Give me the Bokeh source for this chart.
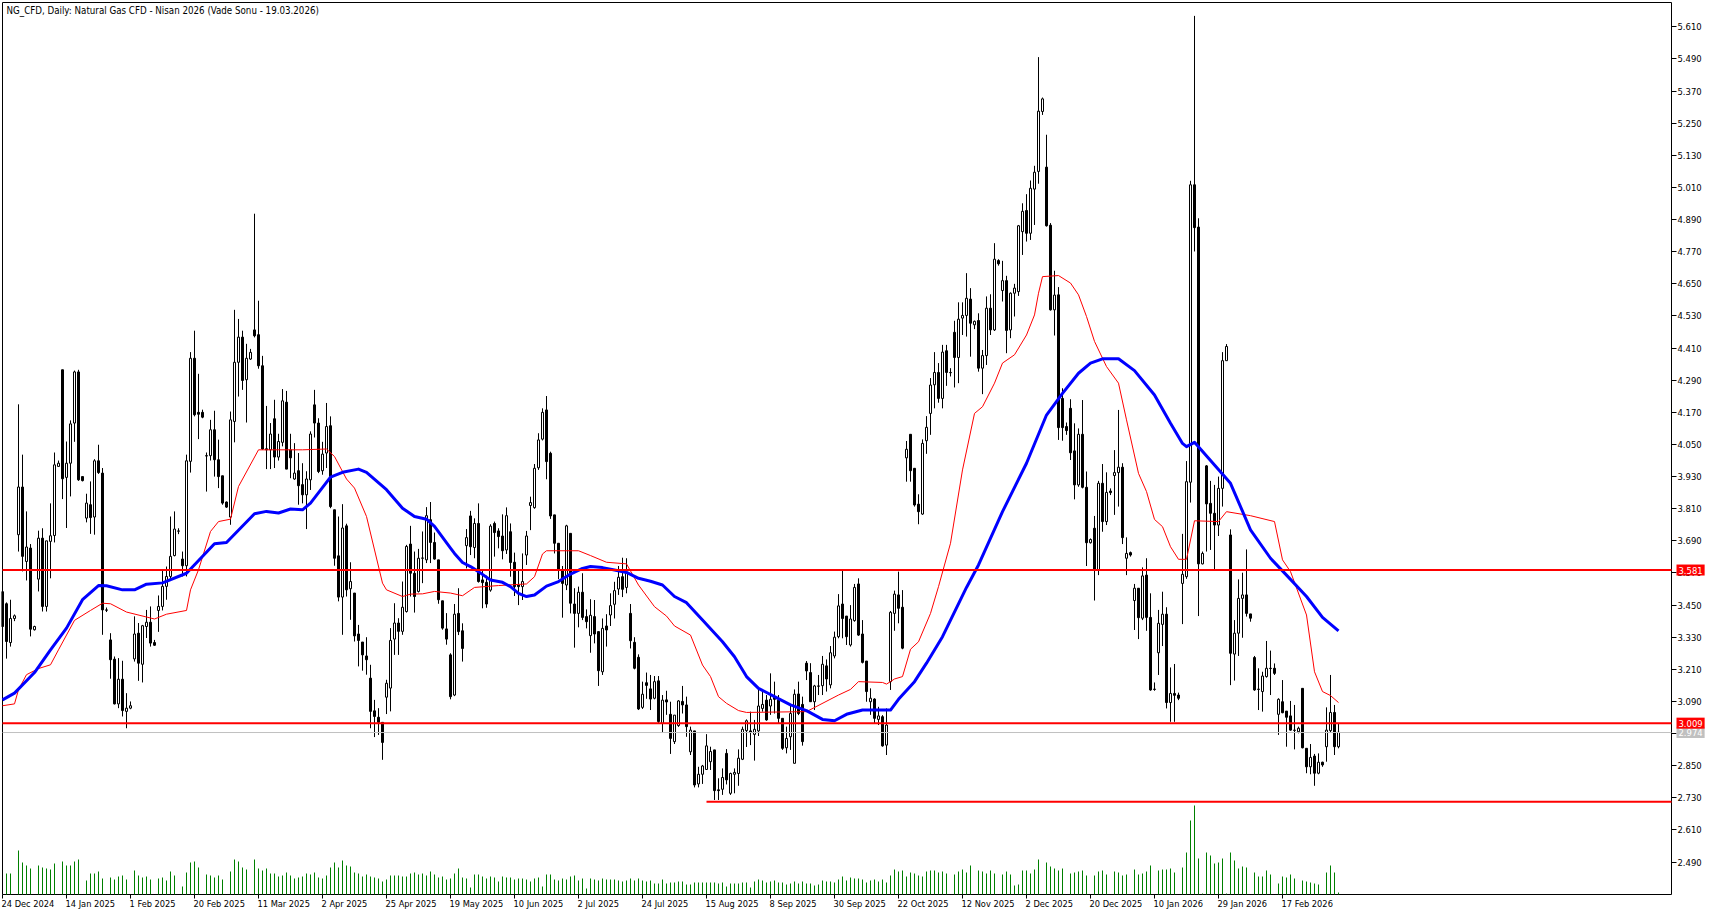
from bokeh.embed import file_html
from bokeh.models import FixedTicker, Label, NumeralTickFormatter, Range1d
from bokeh.plotting import figure
from bokeh.resources import INLINE

chart_title = "NG_CFD, Daily:  Natural Gas CFD - Nisan 2026 (Vade Sonu - 19.03.2026)"

opens = [
    3.50,3.455,3.31,3.40,3.713,3.891,3.613,3.663,3.358,3.547,
    3.70,3.445,3.688,3.71,3.968,4.329,3.927,3.98,4.13,4.321,
    3.93,3.775,3.825,3.779,3.989,3.943,3.432,3.32,3.248,3.081,
    3.173,3.053,3.065,3.249,3.345,3.229,3.37,3.386,3.31,3.43,
    3.445,3.52,3.557,3.635,3.726,3.622,3.597,3.987,4.372,4.17,
    4.17,4.008,4.008,4.105,3.993,3.933,3.835,3.779,4.136,4.357,
    4.451,4.292,4.369,4.478,4.46,4.344,4.034,4.03,4.146,4.003,
    4.058,4.208,4.03,3.921,3.952,3.9,3.862,3.918,4.198,4.13,
    3.952,4.018,4.12,3.806,3.634,3.48,3.746,3.511,3.495,3.342,
    3.312,3.26,3.177,3.055,3.031,3.012,3.106,3.14,3.323,3.383,
    3.352,3.426,3.678,3.569,3.501,3.625,3.619,3.769,3.684,3.619,
    3.466,3.361,3.264,3.114,3.419,3.354,3.672,3.783,3.665,3.755,
    3.544,3.535,3.506,3.755,3.727,3.708,3.656,3.724,3.61,3.525,
    3.519,3.637,3.822,3.814,3.963,4.07,4.179,4.017,3.787,3.681,
    3.581,3.525,3.718,3.454,3.419,3.498,3.407,3.336,3.407,3.351,
    3.201,3.372,3.413,3.453,3.51,3.556,3.516,3.419,3.311,3.255,
    3.068,3.16,3.137,3.102,3.167,3.008,3.096,3.042,2.94,3.0,
    3.09,3.077,2.902,2.98,2.782,2.818,2.836,2.865,2.909,2.76,
    2.762,2.896,2.747,2.818,2.821,2.874,2.981,2.98,2.967,2.98,
    3.064,3.095,3.073,3.108,3.095,3.027,2.917,2.958,2.859,3.118,
    3.079,3.233,3.198,3.089,3.148,3.149,3.223,3.152,3.26,3.332,
    3.454,3.409,3.301,3.392,3.529,3.342,3.241,3.089,3.099,3.023,
    3.033,2.927,3.164,3.419,3.488,3.442,4.0,4.088,3.961,3.827,
    3.79,4.064,4.166,4.273,4.319,4.222,4.40,4.319,4.469,4.375,
    4.522,4.532,4.593,4.497,4.513,4.335,4.382,4.559,4.478,4.737,
    4.625,4.662,4.478,4.615,4.621,4.845,4.924,4.839,5.004,5.07,
    5.294,5.086,4.869,4.553,4.609,4.222,4.117,4.185,4.026,3.899,
    4.088,3.89,3.683,3.737,3.581,3.905,3.762,3.876,3.934,3.945,
    3.965,3.625,3.646,3.467,3.513,3.401,3.562,3.404,3.136,3.272,
    3.378,3.416,3.086,3.12,3.114,3.531,3.556,3.909,5.02,4.862,
    3.604,3.97,3.83,3.793,3.749,3.886,4.363,3.712,3.267,3.345,
    3.475,3.488,3.417,3.254,3.136,3.127,3.183,3.214,3.214,3.042,
    3.089,3.054,3.036,2.983,2.977,3.139,2.915,2.846,2.886,2.822,
    2.863,2.921,2.981,3.049,2.921,
]
closes = [
    3.37,3.314,3.40,3.41,3.891,3.632,3.667,3.36,3.37,3.70,
    3.445,3.69,3.709,3.974,3.98,3.922,3.98,4.127,4.321,3.918,
    3.915,3.831,3.777,3.989,3.945,3.432,3.431,3.246,3.081,3.173,
    3.056,3.065,3.074,3.342,3.233,3.373,3.386,3.308,3.30,3.445,
    3.52,3.557,3.632,3.734,3.727,3.597,3.989,4.372,4.161,4.163,
    4.152,4.007,4.105,3.993,3.93,3.831,3.816,4.142,4.357,4.451,
    4.289,4.372,4.394,4.456,4.344,4.033,4.03,4.089,4.003,4.061,
    4.213,3.958,4.0,3.943,3.896,3.862,3.921,4.089,4.13,3.949,
    4.014,4.117,3.818,3.625,3.48,3.738,3.507,3.538,3.335,3.318,
    3.264,3.246,3.053,3.034,3.012,2.937,3.158,3.318,3.383,3.352,
    3.442,3.669,3.569,3.482,3.625,3.626,3.784,3.684,3.622,3.47,
    3.364,3.323,3.108,3.416,3.351,3.288,3.702,3.668,3.755,3.538,
    3.534,3.454,3.745,3.721,3.706,3.653,3.784,3.609,3.519,3.519,
    3.538,3.708,3.833,3.961,4.067,4.17,3.986,3.783,3.681,3.581,
    3.531,3.746,3.457,3.419,3.498,3.404,3.388,3.412,3.342,3.205,
    3.363,3.357,3.448,3.504,3.554,3.509,3.569,3.317,3.214,3.062,
    3.117,3.15,3.099,3.164,3.015,3.095,3.088,2.952,3.039,3.092,
    3.077,2.996,2.983,2.778,2.818,2.849,2.924,2.903,2.757,2.757,
    2.806,2.797,2.821,2.825,2.878,2.986,3.018,2.974,2.986,3.073,
    3.079,3.021,3.098,3.098,3.027,2.915,2.952,3.045,3.117,3.045,
    2.94,3.204,3.089,3.148,3.147,3.229,3.174,3.272,3.33,3.447,
    3.40,3.332,3.398,3.516,3.338,3.236,3.127,3.102,3.027,3.036,
    2.924,3.002,3.423,3.491,3.438,3.289,4.032,3.952,3.824,3.799,
    4.054,4.114,4.272,4.319,4.222,4.395,4.319,4.318,4.375,4.518,
    4.532,4.596,4.503,4.51,4.335,4.382,4.559,4.478,4.742,4.725,
    4.662,4.476,4.615,4.634,4.867,4.921,4.839,5.007,5.067,5.295,
    5.341,4.867,4.553,4.608,4.113,4.113,4.102,4.019,3.899,4.088,
    3.89,3.683,3.695,3.581,3.905,3.762,3.871,3.87,3.945,3.965,
    3.702,3.643,3.637,3.513,3.403,3.559,3.404,3.133,3.135,3.382,
    3.416,3.086,3.12,3.113,3.102,3.565,3.911,5.02,4.86,3.604,
    3.643,3.828,3.793,3.749,3.886,4.363,4.416,3.27,3.345,3.475,
    3.488,3.419,3.401,3.133,3.135,3.185,3.214,3.213,3.195,3.098,
    3.048,3.031,2.983,2.982,2.99,2.917,2.846,2.881,2.822,2.863,
    2.853,2.983,3.049,2.921,2.975,
]
highs = [
    3.52,3.46,3.47,3.415,4.20,4.012,3.80,3.678,3.373,3.728,
    3.737,3.69,3.83,4.02,3.99,4.329,4.061,4.14,4.326,4.329,
    3.93,3.866,3.912,3.995,4.049,3.962,3.441,3.345,3.258,3.252,
    3.242,3.121,3.09,3.408,3.383,3.376,3.432,3.445,3.32,3.486,
    3.578,3.594,3.781,3.80,3.737,3.65,4.012,4.395,4.475,4.314,
    4.18,4.02,4.142,4.176,4.068,3.933,3.837,4.173,4.553,4.519,
    4.475,4.426,4.407,4.912,4.587,4.381,4.194,4.13,4.217,4.09,
    4.257,4.25,4.09,4.055,4.018,3.98,3.95,4.099,4.254,4.148,
    4.06,4.205,4.155,3.806,3.781,3.827,3.754,3.61,3.495,3.376,
    3.312,3.33,3.227,3.096,3.065,3.012,3.171,3.364,3.457,3.401,
    3.538,3.675,3.746,3.65,3.66,3.725,3.816,3.835,3.721,3.619,
    3.466,3.42,3.27,3.454,3.513,3.382,3.734,3.802,3.774,3.83,
    3.581,3.56,3.752,3.762,3.737,3.789,3.815,3.755,3.646,3.581,
    3.643,3.727,3.855,3.977,4.092,4.185,4.231,4.023,3.787,3.681,
    3.596,3.75,3.718,3.513,3.519,3.569,3.434,3.472,3.469,3.351,
    3.40,3.416,3.494,3.537,3.596,3.627,3.625,3.454,3.33,3.266,
    3.164,3.198,3.189,3.185,3.185,3.114,3.13,3.089,3.039,3.095,
    3.148,3.108,2.996,2.98,2.846,2.853,2.968,2.921,2.909,2.803,
    2.84,2.912,2.824,2.84,2.911,2.996,3.023,3.052,3.021,3.133,
    3.133,3.114,3.195,3.164,3.114,3.027,2.996,3.077,3.135,3.164,
    3.108,3.241,3.233,3.152,3.189,3.26,3.247,3.297,3.351,3.491,
    3.579,3.409,3.45,3.529,3.55,3.394,3.241,3.139,3.102,3.07,
    3.039,3.064,3.428,3.504,3.575,3.506,4.063,4.088,3.961,3.864,
    4.069,4.156,4.298,4.395,4.354,4.422,4.422,4.335,4.512,4.581,
    4.581,4.69,4.634,4.513,4.54,4.403,4.603,4.611,4.802,4.742,
    4.736,4.68,4.618,4.65,4.87,4.951,4.985,5.036,5.091,5.497,
    5.346,5.207,4.877,4.699,4.638,4.26,4.132,4.219,4.129,4.11,
    4.216,3.949,3.699,3.783,3.914,3.977,3.946,3.886,4.029,4.179,
    3.98,3.703,3.65,3.529,3.513,3.591,3.625,3.494,3.161,3.432,
    3.5,3.442,3.217,3.23,3.123,3.716,3.988,5.035,5.651,4.895,
    3.65,3.973,3.914,3.899,3.93,4.395,4.425,3.733,3.394,3.546,
    3.571,3.658,3.417,3.26,3.214,3.201,3.316,3.28,3.232,3.102,
    3.17,3.054,3.092,3.077,2.996,3.139,2.915,2.931,2.894,2.896,
    2.865,3.068,3.189,3.077,3.008,
]
lows = [
    3.33,3.25,3.295,3.39,3.65,3.576,3.542,3.333,3.355,3.501,
    3.426,3.426,3.55,3.684,3.968,3.846,3.738,3.856,4.06,3.914,
    3.912,3.759,3.716,3.713,3.94,3.339,3.424,3.175,3.079,3.065,
    3.034,2.99,3.061,3.239,3.167,3.161,3.327,3.295,3.298,3.35,
    3.43,3.47,3.545,3.632,3.715,3.557,3.557,3.945,4.155,4.07,
    4.148,3.874,3.99,3.93,3.887,3.825,3.813,3.75,4.058,4.229,
    4.254,4.132,4.366,4.45,4.333,4.03,3.958,3.958,3.962,3.99,
    4.043,3.958,3.924,3.918,3.825,3.83,3.734,3.88,4.076,3.943,
    3.937,3.962,3.812,3.597,3.464,3.339,3.482,3.395,3.314,3.221,
    3.205,3.19,2.99,2.957,2.965,2.872,3.043,3.053,3.264,3.264,
    3.339,3.422,3.482,3.422,3.497,3.532,3.607,3.607,3.62,3.455,
    3.358,3.302,3.098,3.11,3.338,3.239,3.587,3.637,3.625,3.534,
    3.438,3.44,3.5,3.631,3.662,3.621,3.641,3.556,3.484,3.45,
    3.469,3.6,3.73,3.81,3.955,4.065,3.92,3.772,3.643,3.547,
    3.403,3.506,3.419,3.291,3.367,3.394,3.363,3.272,3.307,3.148,
    3.189,3.295,3.372,3.4,3.488,3.48,3.494,3.288,3.21,3.058,
    3.062,3.10,3.058,3.098,3.008,2.973,3.04,2.894,2.931,2.995,
    3.045,2.958,2.89,2.769,2.769,2.782,2.834,2.834,2.722,2.722,
    2.741,2.78,2.741,2.747,2.775,2.871,2.92,2.927,2.869,2.961,
    3.052,3.018,3.04,3.045,3.008,2.909,2.896,2.909,2.859,3.039,
    2.925,3.17,3.089,3.058,3.114,3.114,3.127,3.139,3.251,3.326,
    3.326,3.301,3.295,3.388,3.335,3.232,3.089,3.04,3.008,3.002,
    2.921,2.89,3.133,3.354,3.382,3.285,3.911,3.911,3.818,3.752,
    3.787,4.015,4.086,4.185,4.206,4.185,4.269,4.304,4.263,4.279,
    4.459,4.453,4.378,4.481,4.322,4.238,4.347,4.459,4.474,4.718,
    4.584,4.391,4.447,4.528,4.605,4.758,4.808,4.814,4.87,5.024,
    5.281,4.864,4.55,4.457,4.067,4.064,4.086,3.992,3.845,3.892,
    3.886,3.596,3.68,3.467,3.562,3.724,3.749,3.861,3.787,3.818,
    3.678,3.562,3.631,3.357,3.323,3.394,3.354,3.13,3.13,3.189,
    3.297,3.064,3.014,3.014,3.095,3.379,3.548,3.833,4.771,3.409,
    3.602,3.65,3.656,3.581,3.708,3.818,4.363,3.151,3.168,3.26,
    3.328,3.407,3.388,3.13,3.058,3.052,3.179,3.114,3.189,2.965,
    3.046,2.921,2.981,2.911,2.971,2.915,2.822,2.818,2.775,2.818,
    2.846,2.865,2.973,2.89,2.915,
]
volumes = [
    0,21,21,0,44,32,29,26,0,29,
    27,26,25,31,0,33,29,29,33,35,
    0,14,21,21,23,16,0,17,15,18,
    19,15,0,24,19,17,18,15,0,16,
    17,14,23,19,0,8,22,32,33,27,
    0,20,19,17,19,15,0,23,35,33,
    27,25,0,35,26,24,26,21,21,18,
    19,22,19,16,17,18,21,20,22,17,
    16,19,27,32,27,34,29,28,22,21,
    18,20,18,17,16,13,15,19,19,19,
    18,18,21,22,20,21,19,23,20,17,
    18,15,16,21,26,17,16,7,20,20,
    18,16,18,17,13,18,17,17,15,16,
    16,15,13,16,17,8,20,20,15,14,
    16,15,18,19,14,16,6,16,15,14,
    16,15,15,15,14,13,14,16,14,16,
    14,13,14,11,11,15,11,12,12,13,
    13,10,10,12,12,12,12,12,12,11,
    12,8,11,11,11,12,12,7,13,15,
    14,12,13,14,12,12,10,11,13,11,
    13,11,11,9,10,14,13,13,12,15,
    18,14,17,16,16,15,12,14,15,13,
    15,12,19,25,23,24,18,22,21,19,
    18,23,24,24,22,23,21,0,20,23,
    25,22,29,0,24,23,21,24,21,0,
    20,23,20,9,10,24,24,21,25,35,
    0,32,28,26,24,26,0,21,22,23,
    24,19,0,19,23,24,20,0,23,22,
    19,20,0,25,20,21,23,29,0,24,
    25,25,26,22,0,27,42,74,89,36,
    1,42,39,31,32,36,1,42,34,26,
    28,27,0,22,18,18,24,20,0,11,
    18,17,20,16,0,14,13,12,11,10,
    0,22,29,22,2,
]

# moving averages, read at the bars where the line bends
blue_bars = [0,3,8,12,16,20,24,26,30,33,36,40,46,53,56,63,66,69,72,75,77,82,85,89,91,96,100,103,106,108,112,
             113,115,117,119,122,125,127,129,131,133,136,139,142,145,147,150,153,156,159,162,165,168,171,175,180,183,186,189,
             193,197,201,205,208,211,215,219,222,224,228,231,235,241,244,250,256,261,265,269,272,275,279,283,288,
             292,295,296,298,303,307,312,317,321,326,330,334]
blue_ma = [3.096,3.121,3.198,3.283,3.364,3.47,3.523,3.522,3.507,3.507,3.528,3.533,3.569,3.679,3.684,3.791,3.8,3.794,3.809,3.806,3.831,3.928,3.946,3.958,3.946,3.881,3.812,3.781,3.771,3.744,3.663,
           3.643,3.609,3.594,3.575,3.544,3.535,3.519,3.494,3.482,3.488,3.521,3.538,3.566,3.587,3.594,3.59,3.581,3.572,3.55,3.539,3.525,3.482,3.459,3.394,3.313,3.257,3.183,3.139,
           3.108,3.077,3.056,3.023,3.018,3.042,3.058,3.058,3.058,3.098,3.164,3.233,3.332,3.516,3.60,3.799,3.98,4.16,4.241,4.316,4.354,4.37,4.37,4.326,4.235,
           4.129,4.054,4.042,4.058,3.973,3.905,3.731,3.625,3.562,3.482,3.404,3.354]

red_bars = [0,3,4,6,9,12,14,18,22,25,27,31,38,41,46,47,49,52,54,57,59,64,75,81,83,86,88,91,95,96,100,102,105,108,112,
            115,118,124,131,133,135,136,144,147,151,156,159,163,166,168,172,175,177,179,181,184,186,201,209,212,214,220,221,222,
            223,225,227,229,232,234,237,240,243,245,248,250,253,256,258,259,260,264,267,269,271,273,276,279,
            281,284,286,288,290,292,294,296,298,304,306,312,318,320,322,326,328,330,332,334]
red_ma = [3.074,3.081,3.134,3.19,3.213,3.227,3.283,3.393,3.43,3.457,3.455,3.424,3.398,3.416,3.43,3.507,3.582,3.725,3.762,3.771,3.893,4.03,4.03,4.033,4.005,3.921,3.887,3.781,3.532,3.507,3.482,3.491,3.492,3.501,3.495,
          3.485,3.516,3.523,3.529,3.556,3.641,3.653,3.653,3.635,3.61,3.604,3.525,3.444,3.409,3.372,3.338,3.226,3.183,3.108,3.083,3.056,3.049,3.052,3.114,3.135,3.164,3.161,3.155,3.164,
          3.174,3.183,3.285,3.313,3.419,3.519,3.681,3.955,4.166,4.191,4.279,4.354,4.385,4.459,4.534,4.615,4.677,4.681,4.653,4.609,4.528,4.435,4.341,4.279,
          4.142,3.942,3.874,3.77,3.743,3.668,3.621,3.621,3.765,3.762,3.799,3.784,3.762,3.619,3.575,3.413,3.201,3.127,3.112,3.086]

price_ticks = [5.61,5.49,5.37,5.25,5.13,5.01,4.89,4.77,4.65,4.53,4.41,4.29,4.17,4.05,3.93,3.81,3.69,3.57,3.45,3.33,3.21,3.09,2.97,2.85,2.73,2.61,2.49]
date_ticks = [0,16,32,48,64,80,96,112,128,144,160,176,192,208,224,240,256,272,288,304,320]
date_labels = ["24 Dec 2024","14 Jan 2025","1 Feb 2025","20 Feb 2025","11 Mar 2025","2 Apr 2025","25 Apr 2025",
               "19 May 2025","10 Jun 2025","2 Jul 2025","24 Jul 2025","15 Aug 2025","8 Sep 2025","30 Sep 2025",
               "22 Oct 2025","12 Nov 2025","2 Dec 2025","20 Dec 2025","10 Jan 2026","29 Jan 2026","17 Feb 2026"]

resistance = 3.581
pivot = 3.009
last_price = 2.974
support = 2.715
support_start = 176

# the frame fills the page, the axes stand inside it where the chart ends
x_start = -0.25
x_axis_end = 417.25
x_end = 428
y_top = 5.70474
y_axis_end = 2.3689
y_bottom = 2.29047
tag_x = 418.5

FONT = "DejaVu Sans Condensed"
TITLE_SIZE = "9.7px"
DATE_SIZE = "9.2px"
PRICE_SIZE = "9.4px"

bars = list(range(len(opens)))

p = figure(width=1714, height=915, output_backend="svg", toolbar_location=None,
           x_range=Range1d(x_start, x_end), y_range=Range1d(y_bottom, y_top),
           x_axis_location="below", y_axis_location="right",
           min_border_left=1, min_border_top=1, min_border_right=0, min_border_bottom=0)
p.extra_y_ranges = {"volume": Range1d(-21, 893)}
p.grid.visible = False
p.outline_line_color = None
p.background_fill_color = "white"

p.xaxis.fixed_location = y_axis_end
p.xaxis.ticker = FixedTicker(ticks=date_ticks)
p.xaxis.major_label_overrides = {t: "" for t in date_ticks}
p.xaxis.major_tick_in = 0
p.xaxis.major_tick_out = 4
p.xaxis.minor_tick_out = 0
p.xaxis.minor_tick_in = 0
p.xaxis.axis_line_color = None
p.xaxis.major_tick_line_color = "black"

p.yaxis.fixed_location = x_axis_end
p.yaxis.ticker = FixedTicker(ticks=price_ticks)
p.yaxis.formatter = NumeralTickFormatter(format="0.000")
p.yaxis.major_label_text_font = FONT
p.yaxis.major_label_text_font_size = PRICE_SIZE
p.yaxis.major_label_text_color = "black"
p.yaxis.major_label_standoff = 1
p.yaxis.major_tick_in = 0
p.yaxis.major_tick_out = 5
p.yaxis.minor_tick_out = 0
p.yaxis.minor_tick_in = 0
p.yaxis.axis_line_color = None
p.yaxis.major_tick_line_color = "black"

# chart border, left, top, right, bottom
p.line([0, 0], [y_axis_end, 5.7010], line_color="black", line_width=1)
p.line([0, x_axis_end], [5.7010, 5.7010], line_color="black", line_width=1)
p.line([x_axis_end, x_axis_end], [y_axis_end, 5.7010], line_color="black", line_width=1)
p.line([0, x_axis_end], [y_axis_end, y_axis_end], line_color="black", line_width=1)

# volume histogram
p.segment(bars, [0] * len(bars), bars, volumes, y_range_name="volume", line_color="#008000", line_width=1)

# candles
p.segment(bars, lows, bars, highs, line_color="black", line_width=1)
up = [i for i in bars if closes[i] >= opens[i]]
down = [i for i in bars if closes[i] < opens[i]]
p.vbar(up, 0.5, [opens[i] for i in up], [closes[i] for i in up],
       fill_color="white", line_color="black", line_width=1)
p.vbar(down, 0.5, [closes[i] for i in down], [opens[i] for i in down],
       fill_color="black", line_color="black", line_width=1)

p.line(red_bars, red_ma, line_color="#ff0000", line_width=1)
p.line(blue_bars, blue_ma, line_color="#0000ff", line_width=3, line_join="round")

p.line([0, x_axis_end], [last_price, last_price], line_color="#c0c0c0", line_width=1)
p.line([0, x_axis_end], [resistance, resistance], line_color="#ff0000", line_width=2)
p.line([0, x_axis_end], [pivot, pivot], line_color="#ff0000", line_width=2)
p.line([support_start, x_axis_end], [support, support], line_color="#ff0000", line_width=2)

for tick, label in zip(date_ticks, date_labels):
    p.add_layout(Label(x=tick, y=12, y_units="screen", x_offset=-1, text=label, text_baseline="middle",
                       text_font=FONT, text_font_size=DATE_SIZE, text_color="black"))

p.add_layout(Label(x=5, y=905, x_units="screen", y_units="screen", text=chart_title, text_baseline="middle",
                   text_font=FONT, text_font_size=TITLE_SIZE, text_color="black"))

for price, text, colour in [(last_price, "2.974", "#c0c0c0"), (resistance, "3.581", "#ff0000"), (pivot, "3.009", "#ff0000")]:
    p.add_layout(Label(x=tag_x, y=price, text=text, text_baseline="middle",
                       text_font=FONT, text_font_size=PRICE_SIZE, text_color="white",
                       background_fill_color=colour, padding=2))

open("out.html", "w").write(file_html(p, INLINE))
